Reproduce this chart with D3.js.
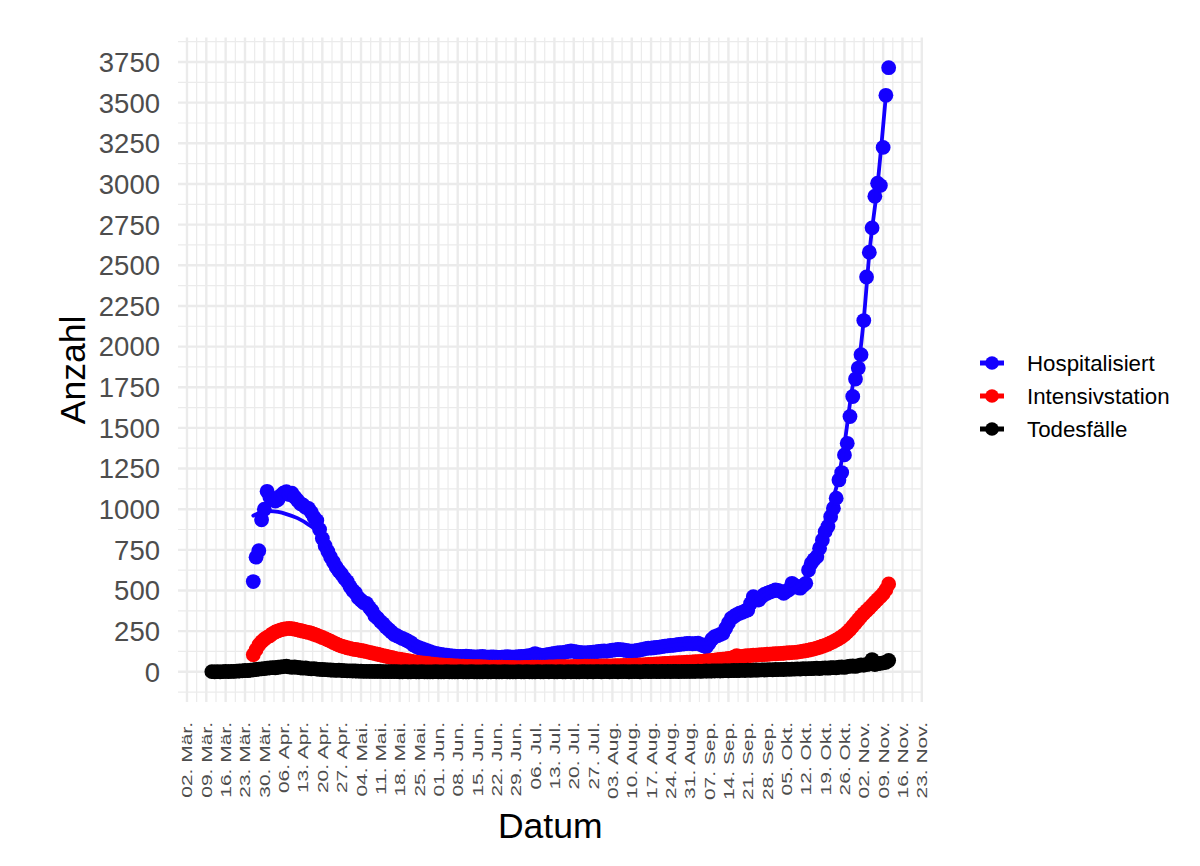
<!DOCTYPE html>
<html><head><meta charset="utf-8">
<script src="https://cdn.jsdelivr.net/npm/d3@7"></script>
<style>
body{margin:0;background:#fff;}
svg{display:block;}
text{font-family:"Liberation Sans", Arial, Helvetica, sans-serif;}
</style>
</head><body>
<svg id="chart" width="1200" height="866"></svg>
<script>
// ---------------- DATA ----------------
const seriesNames = ["Hospitalisiert", "Intensivstation", "Todesfälle"];

const hospStart = "2020-03-26";
const hosp = [
  555, 705, 745, 935, 1000, 1110, 1075, 1065, 1050, 1060,
  1085, 1100, 1108, 1090, 1098, 1075, 1055, 1035, 1026, 1010,
  1005, 980, 950, 930, 875, 820, 775, 740, 705, 675,
  645, 620, 600, 575, 555, 525, 500, 485, 455, 440,
  425, 420, 395, 375, 345, 330, 310, 295, 275, 260,
  245, 230, 222, 212, 205, 198, 188, 180, 165, 155,
  148, 142, 136, 130, 124, 118, 113, 110, 107, 104,
  102, 100, 98, 96, 95, 94, 95, 96, 94, 93,
  92, 91, 93, 94, 92, 90, 91, 92, 90, 89,
  90, 92, 93, 91, 90, 92, 93, 94, 95, 97,
  99, 104, 112, 106, 103, 101, 104, 107, 110, 113,
  116, 118, 117, 121, 125, 128, 126, 122, 119, 117,
  116, 118, 119, 121, 123, 125, 127, 128, 126, 130,
  133, 135, 137, 136, 134, 131, 129, 127, 128, 131,
  134, 138, 142, 145, 146, 148, 150, 152, 155, 158,
  160, 162, 163, 165, 168, 170, 172, 174, 175, 172,
  174, 176, 168, 160, 154, 175, 200, 216, 222, 230,
  236, 268, 300, 329, 340, 352, 360, 366, 374, 380,
  420, 462, 452, 441, 462, 476, 483, 490, 496, 503,
  500, 494, 483, 495, 506, 544, 532, 520, 514, 530,
  544, 626, 667, 690, 708, 760, 811, 862, 893, 954,
  1006, 1068, 1180, 1225, 1334, 1405, 1570, 1693, 1800, 1868,
  1950, 2160, 2428, 2580, 2730, 2925, 3005, 2990, 3225, 3545,
  3715
];

const icuStart = "2020-03-26";
const icu = [
  105, 135, 165, 185, 200, 212, 222, 235, 245, 252,
  258, 262, 266, 267, 265, 262, 258, 254, 250, 246,
  242, 237, 231, 225, 218, 211, 204, 196, 188, 180,
  172, 164, 158, 153, 148, 144, 140, 137, 134, 131,
  128, 124, 120, 116, 112, 108, 104, 100, 96, 92,
  88, 84, 80, 77, 74, 71, 68, 65, 62, 59,
  57, 55, 53, 51, 49, 47, 45, 43, 42, 41,
  40, 39, 38, 37, 36, 35, 34, 33, 33, 32,
  32, 31, 31, 30, 30, 29, 29, 29, 28, 28,
  28, 27, 27, 27, 27, 26, 26, 26, 27, 27,
  27, 28, 28, 28, 29, 29, 29, 30, 30, 30,
  31, 31, 31, 32, 32, 32, 33, 33, 33, 33,
  34, 34, 34, 35, 35, 35, 36, 36, 36, 37,
  37, 38, 38, 38, 39, 39, 40, 40, 41, 41,
  42, 43, 44, 45, 46, 47, 48, 49, 50, 51,
  52, 53, 54, 55, 56, 57, 58, 59, 60, 61,
  62, 63, 64, 66, 67, 68, 70, 72, 74, 76,
  78, 80, 82, 84, 90, 100, 93, 95, 97, 99,
  100, 102, 103, 104, 105, 106, 108, 109, 110, 111,
  112, 113, 114, 116, 117, 118, 120, 121, 124, 127,
  130, 133, 137, 141, 146, 151, 157, 163, 170, 178,
  186, 195, 205, 216, 228, 244, 260, 280, 300, 320,
  340, 358, 375, 392, 410, 428, 445, 462, 480, 505,
  540
];

const deathStart = "2020-03-11";
const deaths = [
  1, 0, 1, 0, 1, 2, 1, 2, 3, 4,
  5, 6, 8, 7, 10, 12, 14, 16, 18, 20,
  22, 24, 26, 25, 28, 30, 32, 34, 30, 28,
  30, 27, 25, 22, 24, 20, 18, 20, 16, 15,
  14, 13, 12, 11, 10, 9, 10, 8, 7, 6,
  6, 5, 5, 4, 4, 3, 3, 3, 2, 2,
  2, 2, 1, 1, 1, 1, 1, 1, 0, 0,
  1, 0, 0, 1, 0, 0, 1, 0, 0, 0,
  0, 1, 0, 0, 0, 1, 0, 0, 0, 0,
  1, 0, 0, 0, 1, 0, 0, 0, 0, 1,
  0, 0, 1, 0, 0, 0, 1, 0, 0, 0,
  0, 1, 0, 0, 1, 0, 0, 0, 1, 0,
  0, 1, 0, 1, 0, 0, 1, 0, 0, 1,
  0, 1, 0, 0, 1, 1, 0, 1, 0, 1,
  1, 0, 1, 1, 0, 1, 1, 0, 1, 1,
  1, 0, 1, 1, 1, 0, 1, 2, 1, 1,
  2, 1, 1, 2, 1, 2, 1, 2, 2, 1,
  2, 2, 2, 3, 2, 3, 4, 3, 4, 5,
  4, 5, 5, 6, 5, 6, 7, 6, 7, 8,
  7, 8, 9, 8, 10, 9, 10, 11, 10, 12,
  11, 12, 13, 12, 14, 13, 15, 14, 16, 15,
  17, 16, 18, 17, 19, 18, 20, 19, 21, 22,
  20, 23, 24, 22, 25, 26, 24, 28, 30, 27,
  32, 34, 36, 33, 38, 42, 40, 45, 48, 75,
  44, 50, 52, 55, 58, 70
];

// smoothed trend line of the hospitalised series
const hospTrendDates = ["2020-03-26","2020-03-29","2020-04-01","2020-04-04","2020-04-07","2020-04-11","2020-04-15","2020-04-18","2020-04-21","2020-04-25","2020-04-30","2020-05-05","2020-05-10","2020-05-15","2020-05-20","2020-05-25","2020-05-31","2020-06-10","2020-06-20","2020-06-30","2020-07-10","2020-07-20","2020-07-30","2020-08-09","2020-08-19","2020-08-29","2020-09-05","2020-09-10","2020-09-15","2020-09-20","2020-09-25","2020-09-30","2020-10-05","2020-10-10","2020-10-14","2020-10-17","2020-10-20","2020-10-23","2020-10-26","2020-10-29","2020-10-31","2020-11-02","2020-11-04","2020-11-07","2020-11-10"];
const hospTrendValues = [960, 982, 988, 983, 970, 945, 905, 865, 785, 650, 530, 425, 330, 250, 195, 150, 115, 96, 92, 93, 104, 124, 125, 130, 150, 170, 172, 215, 320, 375, 450, 495, 500, 540, 640, 800, 980, 1130, 1400, 1760, 1880, 2170, 2570, 3000, 3545];

const xTickLabels = ["02. Mär.","09. Mär.","16. Mär.","23. Mär.","30. Mär.","06. Apr.","13. Apr.","20. Apr.","27. Apr.","04. Mai.","11. Mai.","18. Mai.","25. Mai.","01. Jun.","08. Jun.","15. Jun.","22. Jun.","29. Jun.","06. Jul.","13. Jul.","20. Jul.","27. Jul.","03. Aug.","10. Aug.","17. Aug.","24. Aug.","31. Aug.","07. Sep.","14. Sep.","21. Sep.","28. Sep.","05. Okt.","12. Okt.","19. Okt.","26. Okt.","02. Nov.","09. Nov.","16. Nov.","23. Nov."];
const yTicks = [0, 250, 500, 750, 1000, 1250, 1500, 1750, 2000, 2250, 2500, 2750, 3000, 3250, 3500, 3750];

// ---------------- STYLE ----------------
const colors = ["#1400ff", "#ff0000", "#000000"];
const panel = {left: 178, right: 922.5, top: 37.5, bottom: 702};
const R = 7.4;

// ---------------- BUILD ----------------
const parse = d3.utcParse("%Y-%m-%d");
function toPoints(start, vals) {
  const s = parse(start);
  return vals.map((v, i) => ({date: d3.utcDay.offset(s, i), value: v}));
}
const series = [
  {name: seriesNames[0], pts: toPoints(hospStart, hosp), color: colors[0],
   line: hospTrendDates.map((d, i) => ({date: parse(d), value: hospTrendValues[i]}))},
  {name: seriesNames[1], pts: toPoints(icuStart, icu), color: colors[1]},
  {name: seriesNames[2], pts: toPoints(deathStart, deaths), color: colors[2]}
];
series[1].line = series[1].pts;
series[2].line = series[2].pts;

const all = series.flatMap(s => s.pts);
const [dMin, dMax] = d3.extent(all, p => p.date);
const span = dMax - dMin;
const x = d3.scaleUtc()
  .domain([new Date(+dMin - 0.05 * span), new Date(+dMax + 0.05 * span)])
  .range([panel.left, panel.right]);
const [vMin, vMax] = d3.extent(all, p => p.value);
const vs = vMax - vMin;
const y = d3.scaleLinear()
  .domain([vMin - 0.05 * vs, vMax + 0.05 * vs])
  .range([panel.bottom, panel.top]);

const svg = d3.select("#chart");
const grid = svg.append("g");

// x grid
const majorDates = d3.utcMonday.range(parse("2020-03-02"), d3.utcDay.offset(parse("2020-11-23"), 1));
const [x0, x1] = x.domain();
const minorDates = [];
majorDates.forEach(d => {
  [-3.5, 3.5].forEach(o => {
    const m = new Date(+d + o * 864e5);
    if (m >= x0 && m <= x1 && !minorDates.some(q => +q === +m)) minorDates.push(m);
  });
});
grid.selectAll(".xminor").data(minorDates).join("line")
  .attr("x1", d => x(d)).attr("x2", d => x(d))
  .attr("y1", panel.top).attr("y2", panel.bottom)
  .attr("stroke", "#ebebeb").attr("stroke-width", 1.2);
const [y0d, y1d] = y.domain();
const yMinor = d3.range(-125, 4000, 250).filter(v => v >= y0d && v <= y1d);
grid.selectAll(".yminor").data(yMinor).join("line")
  .attr("x1", panel.left).attr("x2", panel.right)
  .attr("y1", d => y(d)).attr("y2", d => y(d))
  .attr("stroke", "#ebebeb").attr("stroke-width", 1.2);
grid.selectAll(".xmajor").data(majorDates).join("line")
  .attr("x1", d => x(d)).attr("x2", d => x(d))
  .attr("y1", panel.top).attr("y2", panel.bottom)
  .attr("stroke", "#ebebeb").attr("stroke-width", 2.4);
grid.selectAll(".ymajor").data(yTicks).join("line")
  .attr("x1", panel.left).attr("x2", panel.right)
  .attr("y1", d => y(d)).attr("y2", d => y(d))
  .attr("stroke", "#ebebeb").attr("stroke-width", 2.4);

// axis labels
svg.append("g").selectAll("text").data(yTicks).join("text")
  .attr("x", 160).attr("y", d => y(d)).attr("dy", "0.36em")
  .attr("text-anchor", "end").attr("fill", "#4d4d4d")
  .attr("font-size", 27.5).text(d => d);

svg.append("g").selectAll("text").data(majorDates).join("text")
  .attr("transform", d => `translate(${x(d)},722) rotate(-90) scale(1.38,1)`)
  .attr("dy", "0.36em")
  .attr("text-anchor", "end").attr("fill", "#4d4d4d")
  .attr("font-size", 15.2).text((d, i) => xTickLabels[i]);

svg.append("text").attr("transform", "translate(85,370) rotate(-90)")
  .attr("text-anchor", "middle").attr("font-size", 35.5).attr("fill", "#000").text("Anzahl");
svg.append("text").attr("x", (panel.left + panel.right) / 2).attr("y", 838)
  .attr("text-anchor", "middle").attr("font-size", 35.5).attr("fill", "#000").text("Datum");

// marks
const line = d3.line().x(d => x(d.date)).y(d => y(d.value)).curve(d3.curveMonotoneX);
series.forEach(s => {
  const g = svg.append("g");
  g.selectAll("circle").data(s.pts).join("circle")
    .attr("cx", d => x(d.date)).attr("cy", d => y(d.value))
    .attr("r", R).attr("fill", s.color);
  g.append("path").datum(s.line).attr("d", line)
    .attr("fill", "none").attr("stroke", s.color).attr("stroke-width", 3.8)
    .attr("stroke-linejoin", "round").attr("stroke-linecap", "round");
});

// legend
const legend = svg.append("g");
const ly = [363, 396, 429];
series.forEach((s, i) => {
  legend.append("line").attr("x1", 980).attr("x2", 1004).attr("y1", ly[i]).attr("y2", ly[i])
    .attr("stroke", s.color).attr("stroke-width", 5);
  legend.append("circle").attr("cx", 992).attr("cy", ly[i]).attr("r", R - 0.6).attr("fill", s.color);
  legend.append("text").attr("x", 1027).attr("y", ly[i]).attr("dy", "0.36em")
    .attr("font-size", 22.3).attr("fill", "#000").text(s.name);
});
</script>
</body></html>
